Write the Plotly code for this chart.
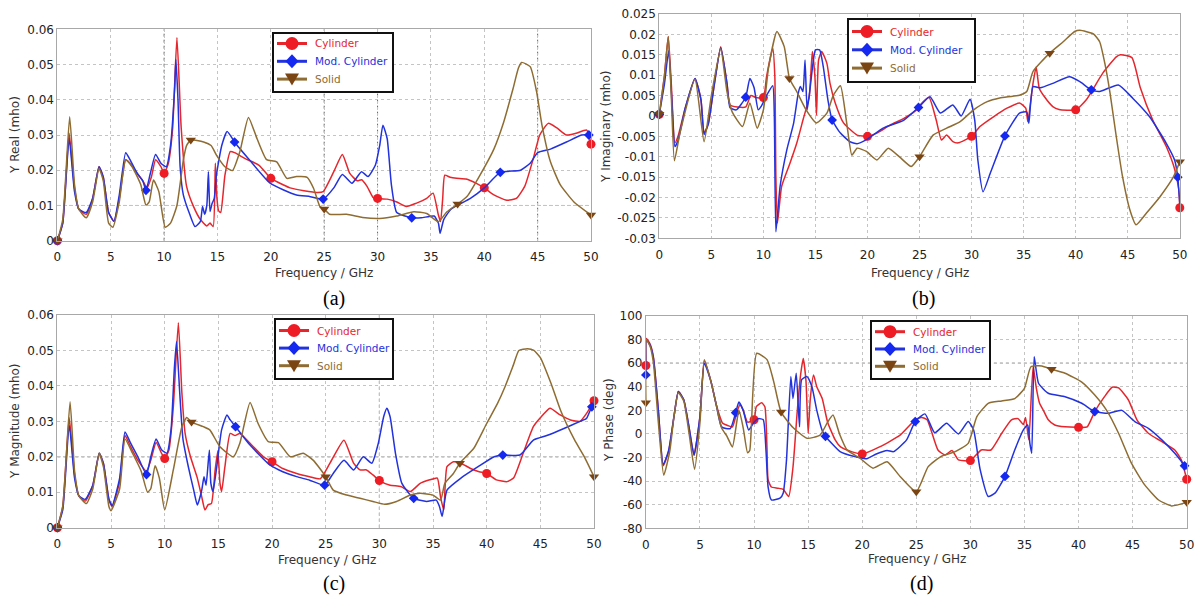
import numpy as np
import plotly.graph_objects as go

# ---------------- data: (frequency GHz, value) pairs ----------------
# (a) Y Real (mho)
A_CYL = [(0,0),(0.5,0.005),(1.1,0.0305),(1.6,0.015),(2.0,0.009),(2.7,0.0075),(3.3,0.012),(3.9,0.021),(4.3,0.018),(4.8,0.008),
         (5.3,0.0055),(5.8,0.012),(6.4,0.023),(6.8,0.022),(7.5,0.019),(8.0,0.017),(8.4,0.015),(8.8,0.018),(9.2,0.023),(9.7,0.021),
         (10,0.0191),(10.4,0.022),(10.8,0.032),(11.2,0.0577),(11.6,0.032),(12.1,0.0155),(12.74,0.0098),(13.4,0.006),(14.0,0.0042),
         (14.3,0.005),(14.6,0.004),(14.8,0.022),(14.95,0.012),(15.1,0.0085),(15.3,0.008),(15.7,0.0186),(16.2,0.0253),(16.6,0.025),
         (17.6,0.0233),(18.9,0.0214),(20,0.0177),(21.2,0.0158),(21.8,0.015),(23.1,0.0142),(24.4,0.0137),(24.9,0.0139),(25.9,0.0196),
         (26.7,0.0245),(27.4,0.0191),(28.1,0.017),(28.5,0.0173),(29.0,0.0155),(29.6,0.0122),(30,0.012),(30.9,0.0118),(31.8,0.011),
         (32.7,0.0097),(33.6,0.0106),(34.6,0.012),(35.2,0.0135),(35.7,0.0073),(35.9,0.0054),(36.1,0.0118),(36.3,0.0186),(36.8,0.018),
         (37.4,0.0177),(38.3,0.0175),(39.3,0.0162),(40,0.015),(40.9,0.013),(42.1,0.0115),(43.0,0.012),(43.8,0.0155),(44.6,0.0234),
         (45.2,0.030),(46.0,0.0333),(46.8,0.032),(47.7,0.030),(48.6,0.0305),(49.6,0.0314),(50,0.0274)]
A_MOD = [(0,0),(0.5,0.005),(1.1,0.029),(1.6,0.014),(2.0,0.009),(2.7,0.008),(3.3,0.012),(3.9,0.021),(4.3,0.018),(4.8,0.008),
         (5.3,0.0055),(5.8,0.013),(6.4,0.025),(6.8,0.023),(7.5,0.019),(8.0,0.017),(8.3,0.0143),(8.7,0.019),(9.2,0.0245),(9.7,0.022),
         (10.2,0.021),(10.6,0.027),(11.0,0.044),(11.1,0.0515),(11.3,0.040),(11.5,0.021),(11.8,0.013),(12.4,0.0075),(12.9,0.004),
         (13.4,0.0055),(13.6,0.0097),(13.8,0.0075),(14.0,0.010),(14.15,0.0196),(14.3,0.0083),(14.5,0.0106),(14.7,0.012),(14.9,0.0186),
         (15.4,0.027),(15.9,0.031),(16.4,0.029),(16.6,0.028),(18.0,0.0229),(19.9,0.0164),(21.2,0.0144),(22.4,0.013),(23.7,0.0125),
         (24.9,0.0118),(25.9,0.015),(26.7,0.0188),(27.6,0.0163),(28.5,0.0196),(29.1,0.0182),(29.8,0.0215),(30.2,0.027),(30.5,0.0328),
         (30.9,0.029),(31.3,0.0158),(31.8,0.008),(33.2,0.0065),(34.1,0.0065),(35.3,0.007),(35.7,0.005),(35.86,0.0021),(36.2,0.006),
         (36.9,0.009),(38.7,0.012),(40.0,0.015),(41.5,0.0194),(43.4,0.020),(44.3,0.022),(45.0,0.025),(46.2,0.026),(47.7,0.028),
         (49.1,0.030),(49.8,0.030),(50,0.0295)]
A_SOL = [(0,0),(0.5,0.006),(1.15,0.0352),(1.6,0.016),(2.0,0.009),(2.7,0.0065),(3.3,0.011),(3.9,0.0205),(4.3,0.017),(4.8,0.005),
         (5.2,0.0038),(5.8,0.011),(6.4,0.023),(7.0,0.021),(7.8,0.016),(8.3,0.0101),(8.6,0.011),(9.0,0.0172),(9.5,0.014),(10.1,0.0038),
         (10.6,0.005),(11.2,0.010),(11.8,0.0229),(12.1,0.027),(12.5,0.0286),(13.7,0.028),(14.4,0.027),(14.9,0.0243),(15.7,0.021),
         (16.4,0.0199),(17.1,0.0253),(17.9,0.035),(18.7,0.029),(19.6,0.023),(20.55,0.0224),(21.5,0.0177),(22.4,0.0182),(23.4,0.018),
         (24.0,0.0149),(24.6,0.0097),(25,0.009),(25.5,0.0075),(27.1,0.0075),(28.6,0.0066),(30.2,0.0063),(31.8,0.007),(33.4,0.0082),
         (34.6,0.0077),(35.7,0.0054),(36.5,0.0082),(37.5,0.0104),(38.4,0.0126),(39.6,0.0186),(40.9,0.026),(41.8,0.0335),(42.7,0.0432),
         (43.2,0.049),(43.5,0.0506),(44.3,0.0494),(44.9,0.0423),(45.4,0.0329),(46.2,0.0224),(47.1,0.016),(48.4,0.011),(50,0.0073)]

# (b) Y Imaginary (mho)
B_CYL = [(0,0.0004),(0.5,0.01),(0.86,0.0195),(1.15,0.008),(1.5,-0.0066),(1.8,-0.005),(2.5,0.002),(3.43,0.0092),(4.0,0.004),
         (4.3,-0.0042),(4.7,-0.002),(5.3,0.008),(5.9,0.017),(6.5,0.008),(6.8,0.0027),(7.5,0.0022),(8.3,0.0022),(8.8,0.005),
         (9.3,0.0045),(10,0.0045),(10.3,0.0096),(10.9,0.0166),(11.1,0.0096),(11.2,-0.0149),(11.35,-0.0263),(11.75,-0.0173),
         (12.55,-0.0116),(13.2,-0.0067),(13.8,-0.001),(14.4,0.0047),(14.7,0.0158),(14.95,0.0096),(15.1,0.0002),(15.3,0.0137),
         (15.6,0.0158),(16.1,0.0129),(16.4,0.008),(16.9,0.0032),(17.7,-0.0017),(19.0,-0.0047),(20,-0.005),(20.9,-0.0042),
         (22.2,-0.0022),(23.5,-0.0006),(24.7,0.0015),(25.05,0.0027),(25.9,0.0046),(26.6,-0.001),(27.1,-0.0059),(27.6,-0.0047),
         (28.2,-0.0063),(28.7,-0.0066),(30,-0.005),(30.8,-0.0026),(32.1,-0.0002),(33.4,0.0019),(34.6,0.0032),(35.2,0.0019),
         (35.4,-0.0014),(35.9,0.008),(36.2,0.012),(36.5,0.0068),(37.0,0.0047),(37.8,0.0023),(38.4,0.0016),(40,0.0015),(41.0,0.0039),
         (42.6,0.0105),(43.9,0.0145),(44.3,0.015),(45.4,0.0143),(46.2,0.007),(47.4,-0.001),(48.7,-0.0075),(49.5,-0.013),
         (49.9,-0.018),(50,-0.0225)]
B_MOD = [(0,0.0004),(0.5,0.008),(0.9,0.016),(1.2,0.004),(1.5,-0.0075),(1.8,-0.006),(2.5,0.002),(3.43,0.0092),(4.0,0.004),
         (4.3,-0.0045),(4.7,-0.002),(5.3,0.008),(5.9,0.0168),(6.5,0.008),(6.8,0.002),(7.4,0.0015),(8.3,0.0046),(8.7,0.0092),
         (9.1,0.007),(9.5,0.0015),(9.8,0.0024),(10.3,0.005),(10.9,0.0074),(11.05,0.0),(11.2,-0.0284),(11.6,-0.0173),(12.25,-0.0083),
         (12.9,-0.0018),(13.35,0.0056),(13.55,0.0072),(13.8,0.006),(14.0,0.0137),(14.2,0.0015),(14.45,0.006),(14.8,0.0137),
         (15.0,0.0162),(15.4,0.0162),(15.75,0.0121),(16.2,0.0039),(16.6,-0.001),(17.4,-0.0042),(18.3,-0.0063),(19.0,-0.0068),
         (19.9,-0.0058),(21.5,-0.003),(23.5,-0.001),(24.9,0.0021),(26.0,0.0047),(27.0,0.0007),(28.2,0.0027),(29.0,0.0),
         (29.85,0.0041),(30.3,-0.001),(30.6,-0.0108),(31.1,-0.0186),(31.8,-0.014),(33.2,-0.0049),(34.6,0.0007),(35.3,0.001),
         (35.5,-0.0018),(35.9,0.0072),(36.6,0.0069),(37.8,0.008),(39.4,0.0096),(40.4,0.0084),(41.5,0.0064),(42.3,0.006),
         (44.1,0.0076),(45.5,0.0043),(47.1,-0.0002),(48.7,-0.0067),(49.5,-0.0108),(49.8,-0.015),(50,-0.0215)]
B_SOL = [(0,0.0004),(0.5,0.01),(0.86,0.0195),(1.15,0.005),(1.45,-0.011),(2.0,-0.004),(3.43,0.009),(4.3,-0.0063),(5.0,0.005),
         (5.9,0.0165),(6.5,0.006),(7.0,0.001),(8.0,-0.0026),(8.7,0.0032),(9.4,-0.003),(10.0,0.0015),(10.5,0.012),(11.3,0.0207),
         (12.0,0.017),(12.5,0.0092),(13.2,0.006),(14.1,0.0015),(15.1,-0.0017),(16.1,0.0007),(16.7,0.005),(17.4,0.0074),
         (18.0,-0.0017),(18.5,-0.0096),(19.0,-0.0079),(19.9,-0.0087),(20.9,-0.0108),(22.0,-0.0079),(23.1,-0.0101),(24.2,-0.0124),
         (25,-0.010),(26.3,-0.0047),(27.6,-0.003),(28.9,-0.0014),(30.2,0.0015),(31.5,0.0035),(32.7,0.0044),(34.6,0.0051),
         (35.3,0.006),(35.9,0.0109),(37.5,0.0154),(38.8,0.0182),(39.9,0.0207),(40.4,0.021),(41.7,0.0201),(42.3,0.0182),
         (42.8,0.0129),(43.3,0.0056),(43.9,-0.0051),(44.5,-0.0149),(45.2,-0.023),(45.8,-0.0267),(46.8,-0.0238),(48.1,-0.0198),
         (49.4,-0.0149),(50,-0.0112)]

# (c) Y Magnitude (mho)
C_CYL = [(0,0),(0.5,0.006),(1.1,0.031),(1.6,0.015),(2.0,0.009),(2.6,0.0075),(3.3,0.012),(3.9,0.021),(4.3,0.018),(4.8,0.008),
         (5.1,0.006),(5.8,0.013),(6.3,0.026),(6.8,0.023),(7.5,0.019),(8.3,0.016),(8.7,0.019),(9.2,0.024),(9.7,0.021),(10,0.0195),
         (10.4,0.022),(10.8,0.034),(11.27,0.0578),(11.6,0.038),(11.9,0.0266),(12.4,0.020),(13.0,0.0144),(13.45,0.0087),
         (13.75,0.005),(14.05,0.0065),(14.35,0.0068),(14.7,0.0163),(14.95,0.0217),(15.15,0.0125),(15.3,0.0102),(15.6,0.017),
         (16.1,0.0266),(16.55,0.026),(17.0,0.0266),(17.95,0.0238),(19.2,0.020),(20,0.0186),(21.0,0.0167),(22.3,0.0153),
         (23.5,0.0144),(24.5,0.0138),(25.4,0.0182),(26.7,0.0247),(27.6,0.0182),(28.2,0.0163),(28.8,0.0163),(29.4,0.0149),
         (30,0.0133),(31.0,0.012),(32.0,0.0116),(32.9,0.0102),(33.8,0.0125),(34.7,0.0135),(35.4,0.014),(35.7,0.0087),(36.0,0.005),
         (36.3,0.0172),(36.9,0.0186),(37.6,0.0182),(38.5,0.0167),(39.3,0.0158),(40,0.0153),(40.9,0.0135),(41.9,0.013),(42.5,0.014),
         (43.4,0.021),(44.35,0.0285),(45.0,0.031),(45.9,0.0337),(46.85,0.0318),(47.8,0.0304),(48.7,0.030),(49.3,0.0322),(50,0.0358)]
C_MOD = [(0,0),(0.5,0.005),(1.1,0.029),(1.6,0.014),(2.0,0.009),(2.6,0.008),(3.3,0.012),(3.9,0.021),(4.3,0.018),(4.8,0.008),
         (5.1,0.0062),(5.8,0.014),(6.3,0.027),(6.8,0.024),(7.5,0.020),(8.3,0.015),(8.7,0.020),(9.2,0.025),(9.7,0.022),(10.2,0.021),
         (10.6,0.028),(10.9,0.045),(11.1,0.0525),(11.4,0.038),(11.7,0.025),(12.2,0.0172),(12.7,0.0106),(13.04,0.0064),
         (13.45,0.0106),(13.66,0.0144),(13.85,0.012),(14.16,0.0219),(14.3,0.0125),(14.5,0.0102),(14.85,0.0172),(15.3,0.0276),
         (15.8,0.0318),(16.1,0.0304),(16.6,0.0285),(17.95,0.0233),(19.8,0.0177),(21.0,0.0158),(22.3,0.0144),(23.5,0.0134),
         (24.9,0.012),(25.7,0.0153),(26.7,0.019),(27.6,0.0163),(28.5,0.020),(29.3,0.0182),(29.9,0.0238),(30.4,0.0313),
         (30.7,0.0337),(31.0,0.0313),(31.5,0.021),(32.1,0.0125),(33.2,0.0083),(34.4,0.0074),(35.3,0.0078),(35.6,0.006),
         (35.85,0.0032),(36.3,0.0106),(37.6,0.014),(39.2,0.0172),(40.7,0.020),(41.5,0.0205),(43.1,0.0205),(44.35,0.0247),
         (45.6,0.026),(47.2,0.028),(48.7,0.030),(49.3,0.0308),(49.8,0.0341),(50,0.0345)]
C_SOL = [(0,0),(0.5,0.006),(1.18,0.0355),(1.6,0.016),(2.0,0.009),(2.7,0.0068),(3.3,0.011),(3.9,0.021),(4.3,0.017),(4.8,0.006),
         (5.0,0.0048),(5.8,0.011),(6.3,0.025),(7.0,0.021),(7.8,0.016),(8.4,0.010),(8.7,0.011),(9.1,0.0175),(9.5,0.014),(10.0,0.005),
         (10.8,0.0163),(11.6,0.0285),(12.05,0.0311),(12.5,0.0298),(13.6,0.0285),(14.2,0.0276),(15.15,0.0228),(16.4,0.020),
         (17.0,0.0238),(17.95,0.0353),(18.7,0.0294),(19.65,0.0243),(20.6,0.024),(21.7,0.020),(22.9,0.021),(23.85,0.019),
         (25,0.0144),(25.7,0.0106),(26.95,0.0092),(28.2,0.0083),(29.4,0.0074),(30.5,0.0066),(31.6,0.0074),(32.9,0.0092),
         (33.8,0.0097),(35.0,0.0092),(35.7,0.0078),(36.1,0.0125),(36.9,0.0153),(37.5,0.0182),(38.8,0.0224),(40.0,0.0294),
         (41.0,0.035),(41.7,0.0397),(42.5,0.046),(43.0,0.050),(43.8,0.0505),(44.4,0.050),(45.0,0.048),(46.0,0.0407),(46.9,0.033),
         (48.2,0.0247),(49.1,0.020),(50,0.0144)]

# (d) Y Phase (deg)
D_CYL = [(0,58),(0.05,81),(0.4,76),(0.7,65),(1.15,20),(1.6,-27),(2.1,-15),(2.6,15),(3.0,36),(3.5,29),(4.0,5),(4.45,-18),
         (5.0,15),(5.4,62),(6.0,45),(6.5,25),(7.1,9),(7.6,7),(8.0,6),(8.4,18),(8.7,25),(9.0,20),(9.4,10),(10,12),(10.2,23),
         (10.7,26.5),(11.0,23),(11.2,-13.5),(11.3,-39),(11.6,-45),(12.2,-46),(12.7,-47),(13.2,-53),(13.6,-28),(14.0,20),(14.3,50),
         (14.55,64),(14.8,45),(15.0,0.6),(15.2,30),(15.5,50),(15.8,40),(16.3,30),(16.8,10),(17.5,-5),(18.0,-11),(19.0,-15),
         (20,-17),(21.6,-11),(23.5,-1),(24.9,12),(25.5,14),(26.0,12),(27.0,-13.6),(27.65,-17.8),(28.3,-14),(28.9,-22),(30,-22.6),
         (31.0,-13.6),(31.9,-13.6),(32.9,0.6),(33.8,12),(34.4,13),(34.9,8),(35.1,14),(35.4,-5),(35.8,57),(36.1,38.7),(36.4,26),
         (36.75,20),(37.2,12),(37.8,7.6),(38.75,6),(40,5.6),(40.8,6),(41.5,19),(42.4,31.6),(43.1,39.6),(43.7,39),(44.6,29),
         (45.4,12),(46.45,0.6),(47.7,-6.5),(48.9,-13.6),(49.5,-22),(50,-38.4)]
D_MOD = [(0,50),(0.05,80),(0.4,75),(0.7,64),(1.15,20),(1.6,-26),(2.1,-14),(2.6,15),(3.0,36),(3.5,29),(4.0,5),(4.45,-18),
         (5.0,15),(5.4,60),(6.0,45),(6.5,25),(7.0,6),(7.8,4.5),(8.3,18),(8.6,27),(9.0,20),(9.5,3.4),(10.0,10),(10.4,13),
         (10.85,12),(11.1,-13.6),(11.3,-45),(11.6,-56),(12.4,-54.5),(12.7,-50),(13.0,-22),(13.4,48.6),(13.6,30),(13.9,51.5),
         (14.2,6),(14.4,46),(14.9,48.6),(15.35,40),(15.8,20),(16.3,3),(16.6,-2),(17.95,-15),(19.2,-19),(20.4,-21),(21.3,-17),
         (22.3,-14),(22.9,-15),(24.1,-5),(24.9,10.5),(25.8,17),(26.7,1),(27.8,9),(28.9,0),(29.8,10.5),(30.3,3.4),(30.9,-30),
         (31.65,-53),(32.3,-50),(33.2,-36),(34.1,-13.6),(34.9,3.4),(35.3,7.6),(35.5,-8),(35.67,-16.4),(35.9,65.5),(36.3,43),
         (37.2,34.5),(38.75,31.6),(40.3,26),(41.5,19),(42.75,17.5),(44.0,20),(45.2,10.5),(46.45,4.8),(47.7,-5),(48.9,-16.4),
         (49.8,-27),(50,-30)]
D_SOL = [(0,26.5),(0.05,80),(0.4,74),(0.7,60),(1.15,10),(1.65,-35),(2.2,-15),(2.6,15),(3.0,35),(3.5,28),(4.0,0),(4.5,-30),
         (5.0,10),(5.4,63),(6.0,45),(6.5,25),(7.0,5),(7.5,-2),(8.0,-11),(8.6,20),(9.0,5),(9.4,-16),(9.6,-14),(10.24,68.4),
         (11.2,63),(11.8,45),(12.5,18.5),(13.6,5.5),(14.9,-3.7),(16.1,-1),(16.8,10),(17.3,16),(17.9,0),(18.6,-13.6),(19.8,-20.6),
         (21.0,-29),(22.3,-23.5),(23.5,-36),(25,-49),(26.1,-27.7),(27.3,-19),(28.6,-15),(29.8,-8),(30.6,14.7),(31.65,26),
         (32.9,28),(34.1,30),(35.0,38.7),(35.6,57),(36.6,57.7),(37.5,54.8),(38.75,51.5),(40.3,44),(41.5,33),(42.6,20),(43.7,0.6),
         (44.9,-25),(46.1,-43),(47.4,-56),(48.6,-61),(50,-58)]

# marker positions (GHz) used by the simulator for each series
CYL_MARK = [0, 10, 20, 30, 40, 50]
MOD_MARK = [0, 8.3, 16.6, 24.9, 33.2, 41.5, 49.8]
SOL_MARK = [0, 12.5, 25, 37.5, 50]

SERIES_NAMES = ["Cylinder", "Mod. Cylinder", "Solid"]
X_TICKS = [0, 5, 10, 15, 20, 25, 30, 35, 40, 45, 50]
A_YTICKS = [0, 0.01, 0.02, 0.03, 0.04, 0.05, 0.06]
B_YTICKS = [-0.03, -0.025, -0.02, -0.015, -0.01, -0.005, 0, 0.005, 0.01, 0.015, 0.02, 0.025]
C_YTICKS = [0, 0.01, 0.02, 0.03, 0.04, 0.05, 0.06]
D_YTICKS = [-80, -60, -40, -20, 0, 20, 40, 60, 80, 100]
Y_TITLES = ["Y Real (mho)", "Y Imaginary (mho)", "Y Magnitude (mho)", "Y Phase (deg)"]
PANEL_LABELS = ["(a)", "(b)", "(c)", "(d)"]

# ---------------- styling ----------------
W, H = 1200, 595
LINE_COL = ["#e5262c", "#2232dc", "#8e6c32"]
MARK_COL = ["#ee1c24", "#1428f0", "#7b4513"]
SYMBOLS = ["circle", "diamond", "triangle-down"]
MSIZE = [9, 7.5, 9]
FONT = "DejaVu Sans"

# pixel boxes of each plot frame: left, right, top, bottom
BOXES = [(57.4, 591.0, 29.3, 240.7),
         (659.3, 1179.8, 14.0, 238.3),
         (57.4, 594.0, 315.0, 527.7),
         (645.9, 1186.7, 316.0, 528.3)]
# legend boxes: left, top, width, height, first-row offset, row spacing
LEGEND_BOX = [(273, 33, 120, 59, 10.5, 17.8),
              (848, 19, 127, 63, 12.5, 18.3),
              (275, 319, 118, 60, 11.5, 17.6),
              (871, 321, 119, 58, 10.7, 17.3)]
XTITLE_POS = [(324, 273), (920, 273), (327, 560), (917, 559)]
YTITLE_POS = [(15, 135), (606, 127), (15, 421), (609, 420)]
LABEL_POS = [(334, 298), (923, 298), (334, 583), (921, 583)]
EMPH_X = [[10, 25, 30, 45], [], [30], []]
EMPH_Y = [[0.01], [], [0.02], [60]]

panels = [(A_CYL, A_MOD, A_SOL, A_YTICKS, (0, 0.06)),
          (B_CYL, B_MOD, B_SOL, B_YTICKS, (-0.03, 0.025)),
          (C_CYL, C_MOD, C_SOL, C_YTICKS, (0, 0.06)),
          (D_CYL, D_MOD, D_SOL, D_YTICKS, (-80, 100))]
marks = [CYL_MARK, MOD_MARK, SOL_MARK]


def fmt(v):
    s = ("%.3f" % v).rstrip("0").rstrip(".")
    return "0" if s in ("-0", "0") else s


def px(x):
    return x / W


def py(y):
    return 1 - y / H


def path(points):
    return "M " + " L ".join("%.5f,%.5f" % (px(a), py(b)) for a, b in points) + " Z"


fig = go.Figure()
annotations, shapes = [], []
layout = dict(width=W, height=H, autosize=False, margin=dict(l=0, r=0, t=0, b=0),
              paper_bgcolor="white", plot_bgcolor="white", showlegend=False)

for i, (cyl, mod, sol, yticks, yr) in enumerate(panels):
    n = "" if i == 0 else str(i + 1)
    xa, ya = "x" + n, "y" + n
    l, r, t, b = BOXES[i]
    common = dict(showgrid=True, gridcolor="#c4c4c4", griddash="dot", gridwidth=1,
                  showline=True, mirror=True, linecolor="#a8a8a8", linewidth=1,
                  zeroline=False, automargin=False, fixedrange=True,
                  tickfont=dict(family=FONT, size=12, color="#222"))
    layout["xaxis" + n] = dict(common, domain=[l / W, r / W], range=[0, 50], anchor=ya,
                               ticks="outside", ticklen=5, tickcolor="rgba(0,0,0,0)",
                               tickvals=X_TICKS, ticktext=[str(v) for v in X_TICKS])
    layout["yaxis" + n] = dict(common, domain=[1 - b / H, 1 - t / H], range=list(yr), anchor=xa,
                               ticks="", tickvals=yticks, ticktext=[fmt(v) for v in yticks])

    for k, pairs in enumerate([cyl, mod, sol]):
        f = np.array([p[0] for p in pairs], dtype=float)
        v = np.array([p[1] for p in pairs], dtype=float)
        fig.add_trace(go.Scatter(x=f, y=v, mode="lines", xaxis=xa, yaxis=ya, showlegend=False,
                                 line=dict(color=LINE_COL[k], width=1.5, shape="spline", smoothing=0.5),
                                 hoverinfo="skip"))
        mf = np.array(marks[k], dtype=float)
        mv = np.interp(mf, f, v)
        fig.add_trace(go.Scatter(x=mf, y=mv, mode="markers", xaxis=xa, yaxis=ya, showlegend=False,
                                 cliponaxis=False,
                                 marker=dict(symbol=SYMBOLS[k], size=MSIZE[k], color=MARK_COL[k],
                                             line=dict(width=0)), hoverinfo="skip"))

    for xv in EMPH_X[i]:
        shapes.append(dict(type="line", xref=xa, yref=ya + " domain", x0=xv, x1=xv, y0=0, y1=1,
                           line=dict(color="#666", width=1, dash="dot"), layer="below"))
    for yv in EMPH_Y[i]:
        shapes.append(dict(type="line", xref=xa + " domain", yref=ya, x0=0, x1=1, y0=yv, y1=yv,
                           line=dict(color="#666", width=1, dash="dot"), layer="below"))

    # legend (drawn as an opaque box over the curves)
    bx, by, bw, bh, off, sp = LEGEND_BOX[i]
    shapes.append(dict(type="rect", xref="paper", yref="paper", x0=px(bx), x1=px(bx + bw),
                       y0=py(by + bh), y1=py(by), fillcolor="white",
                       line=dict(color="#111", width=2), layer="above"))
    for k in range(3):
        yy = by + off + k * sp
        cx = bx + 19
        shapes.append(dict(type="line", xref="paper", yref="paper", x0=px(bx + 4), x1=px(bx + 34),
                           y0=py(yy), y1=py(yy), line=dict(color=LINE_COL[k], width=3), layer="above"))
        if SYMBOLS[k] == "circle":
            shapes.append(dict(type="circle", xref="paper", yref="paper", x0=px(cx - 6.5), x1=px(cx + 6.5),
                               y0=py(yy + 6.5), y1=py(yy - 6.5), fillcolor=MARK_COL[k],
                               line=dict(width=0), layer="above"))
        elif SYMBOLS[k] == "diamond":
            shapes.append(dict(type="path", xref="paper", yref="paper",
                               path=path([(cx, yy - 7), (cx + 6.5, yy), (cx, yy + 7), (cx - 6.5, yy)]),
                               fillcolor=MARK_COL[k], line=dict(width=0), layer="above"))
        else:
            shapes.append(dict(type="path", xref="paper", yref="paper",
                               path=path([(cx - 7, yy - 5.5), (cx + 7, yy - 5.5), (cx, yy + 6.5)]),
                               fillcolor=MARK_COL[k], line=dict(width=0), layer="above"))
        annotations.append(dict(text=SERIES_NAMES[k], xref="paper", yref="paper", x=px(bx + 40), y=py(yy),
                                xanchor="left", yanchor="middle", showarrow=False,
                                font=dict(family=FONT, size=10.5, color=LINE_COL[k])))

    tx, ty = XTITLE_POS[i]
    annotations.append(dict(text="Frequency / GHz", xref="paper", yref="paper", x=px(tx), y=py(ty),
                            xanchor="center", yanchor="middle", showarrow=False,
                            font=dict(family=FONT, size=12, color="#333")))
    yx, yy0 = YTITLE_POS[i]
    annotations.append(dict(text=Y_TITLES[i], xref="paper", yref="paper", x=px(yx), y=py(yy0),
                            xanchor="center", yanchor="middle", showarrow=False, textangle=-90,
                            font=dict(family=FONT, size=12, color="#333")))
    lx, ly = LABEL_POS[i]
    annotations.append(dict(text=PANEL_LABELS[i], xref="paper", yref="paper", x=px(lx), y=py(ly),
                            xanchor="center", yanchor="middle", showarrow=False,
                            font=dict(family="Liberation Serif", size=20, color="#000")))

layout["annotations"] = annotations
layout["shapes"] = shapes
fig.update_layout(**layout)
fig.write_html("out.html", config={"displayModeBar": False, "staticPlot": True},
               post_script="document.body.style.margin='0';document.documentElement.style.overflow='hidden';")
